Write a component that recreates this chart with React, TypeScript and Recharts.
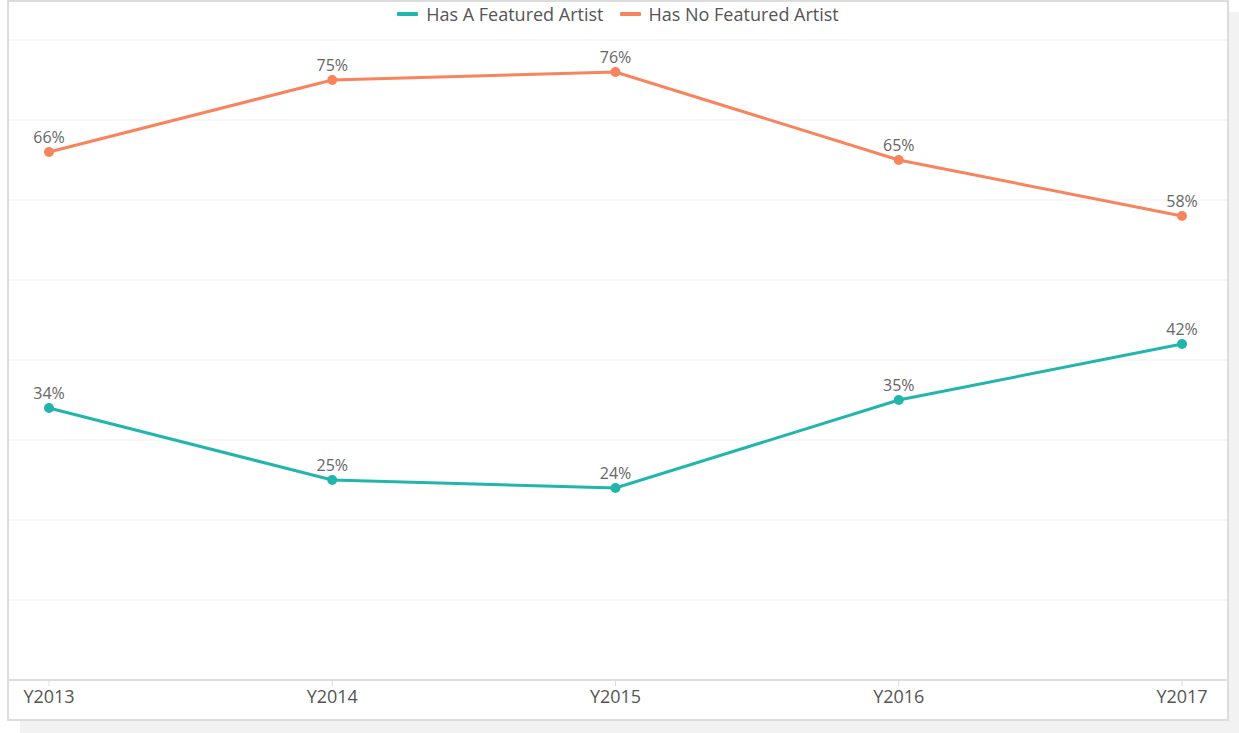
import React from "react";
import {
  LineChart,
  Line,
  XAxis,
  YAxis,
  CartesianGrid,
  Legend,
  LabelList,
} from "recharts";

// Share of songs with / without a featured artist, per year
const years = ["Y2013", "Y2014", "Y2015", "Y2016", "Y2017"];
const featured = [34, 25, 24, 35, 42];
const noFeatured = [66, 75, 76, 65, 58];
const yTicks = [0, 10, 20, 30, 40, 50, 60, 70, 80];

const TEAL = "#22b5ac";
const ORANGE = "#f8835d";
const FONT = "'Open Sans', 'Noto Sans', sans-serif";

const data = years.map((y, i) => ({
  year: y,
  featured: featured[i],
  noFeatured: noFeatured[i],
}));

const LEGEND_LABELS: Record<string, string> = {
  featured: "Has A Featured Artist",
  noFeatured: "Has No Featured Artist",
};

function CustomLegend({
  payload,
}: {
  payload?: Array<{ dataKey?: string; value: string; color: string }>;
}) {
  return (
    <div
      style={{
        display: "flex",
        justifyContent: "center",
        alignItems: "center",
        gap: 16,
        fontFamily: FONT,
        fontSize: 18,
        color: "#555",
        lineHeight: "24px",
      }}
    >
      {(payload ?? []).map((entry) => (
        <div
          key={entry.value}
          style={{ display: "flex", alignItems: "center", gap: 8 }}
        >
          <span
            style={{
              display: "inline-block",
              width: 21,
              height: 4,
              borderRadius: 1,
              backgroundColor: entry.color,
            }}
          />
          <span>{LEGEND_LABELS[entry.dataKey ?? entry.value] ?? entry.value}</span>
        </div>
      ))}
    </div>
  );
}

export default function App() {
  return (
    <div
      style={{
        position: "absolute",
        left: 0,
        top: 0,
        width: 1239,
        height: 733,
        background: "#fff",
        overflow: "hidden",
      }}
    >
      {/* soft offset shadow behind the card */}
      <div
        style={{
          position: "absolute",
          left: 20,
          top: 12,
          width: 1219,
          height: 721,
          background: "#f2f2f2",
        }}
      />
      <div
        style={{
          position: "absolute",
          left: 7,
          top: 0,
          width: 1218,
          height: 717,
          border: "2px solid #dcdcdc",
          background: "#fff",
        }}
      >
        <LineChart
          width={1218}
          height={717}
          data={data}
          margin={{ top: 38, right: 0, bottom: 0, left: 0 }}
        >
          <CartesianGrid vertical={false} stroke="#efefef" strokeWidth={1} />
          <XAxis
            dataKey="year"
            height={39}
            padding={{ left: 40, right: 45 }}
            axisLine={{ stroke: "#dddddd", strokeWidth: 2 }}
            tickLine={{ stroke: "#dddddd" }}
            tickSize={6}
            tickMargin={4}
            tick={{ fontSize: 18, fill: "#555", fontFamily: FONT }}
          />
          <YAxis hide domain={[0, 80]} ticks={yTicks} />
          <Legend
            verticalAlign="middle"
            align="center"
            layout="horizontal"
            wrapperStyle={{ top: 0, left: 0, width: 1218 }}
            content={<CustomLegend />}
          />
          <Line
            type="linear"
            dataKey="featured"
            stroke={TEAL}
            strokeWidth={3}
            dot={{ r: 5, fill: TEAL, stroke: "none" }}
            isAnimationActive={false}
          >
            <LabelList
              dataKey="featured"
              position="top"
              offset={9}
              formatter={(v: number) => `${v}%`}
              style={{ fontSize: 16, fill: "#666", fontFamily: FONT }}
            />
          </Line>
          <Line
            type="linear"
            dataKey="noFeatured"
            stroke={ORANGE}
            strokeWidth={3}
            dot={{ r: 5, fill: ORANGE, stroke: "none" }}
            isAnimationActive={false}
          >
            <LabelList
              dataKey="noFeatured"
              position="top"
              offset={9}
              formatter={(v: number) => `${v}%`}
              style={{ fontSize: 16, fill: "#666", fontFamily: FONT }}
            />
          </Line>
        </LineChart>
      </div>
    </div>
  );
}
